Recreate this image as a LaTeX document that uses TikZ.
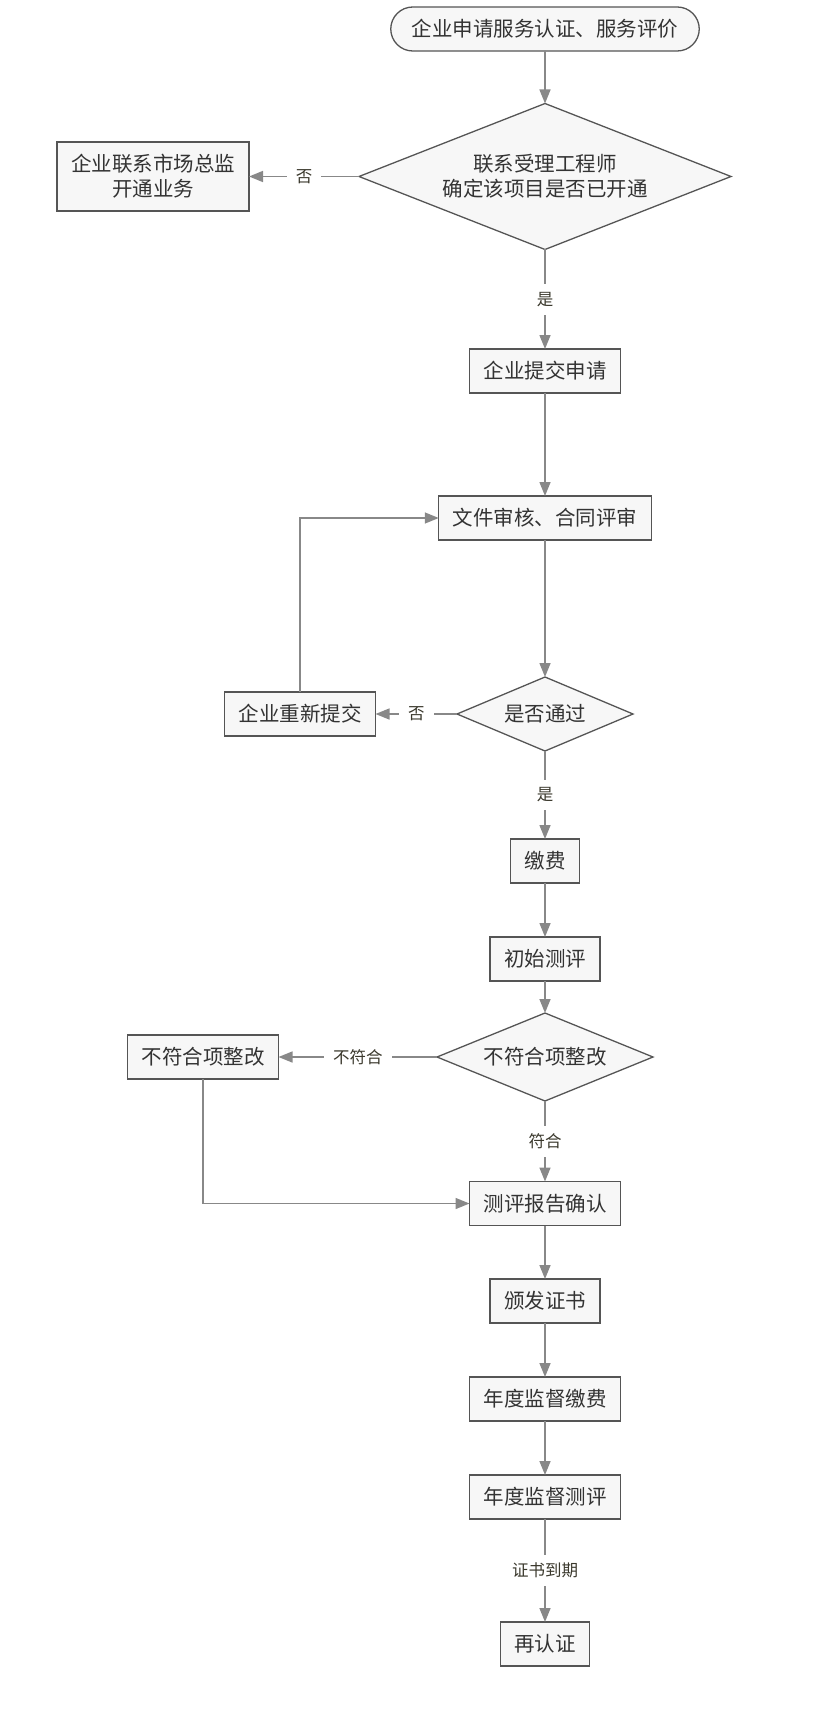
\documentclass[tikz,border=0pt]{standalone}
\usepackage{fontspec}
\setmainfont{Noto Sans CJK SC}
\usetikzlibrary{shapes.geometric,arrows.meta}
\definecolor{boxfill}{HTML}{F7F7F7}
\definecolor{boxline}{HTML}{555555}
\definecolor{linegray}{HTML}{888888}
\definecolor{txtgray}{HTML}{333333}
\definecolor{lbltext}{HTML}{3A382C}
\newcommand{\mainfont}{\fontsize{20.5}{25}\selectfont}
\newcommand{\lblfont}{\fontsize{16.5}{20}\selectfont}

\begin{document}
\begin{tikzpicture}[x=1pt,y=-1pt,inner sep=0pt,outer sep=0pt,
procbox/.style={draw=boxline,fill=boxfill,rectangle,line width=1.3pt,inner xsep=14pt,minimum height=44pt,text=txtgray,font=\mainfont,align=center},
startbox/.style={procbox,rounded corners=22pt,inner xsep=21pt},
decision/.style={draw=boxline,fill=boxfill,diamond,line width=1.3pt,text=txtgray,font=\mainfont,align=center},
flow/.style={draw=linegray,line width=1.5pt,-{Triangle[length=14pt,width=11pt]}},
lbl/.style={fill=white,inner xsep=9pt,inner ysep=8pt,text=lbltext,font=\lblfont}]

\useasboundingbox (0,0) rectangle (819,1712);

\draw (545,29) node[startbox] (apply) {企业申请服务认证、服务评价};
\draw (545,176.5) node[decision,minimum width=372pt,minimum height=146pt,aspect=2.55] (check) {联系受理工程师\\确定该项目是否已开通};
\draw (153,176.5) node[procbox,minimum height=69pt] (open) {企业联系市场总监\\开通业务};
\draw (545,371) node[procbox] (submit) {企业提交申请};
\draw (545,518) node[procbox] (review) {文件审核、合同评审};
\draw (545,714) node[decision,minimum width=176pt,minimum height=74pt,aspect=2.4] (pass) {是否通过};
\draw (300,714) node[procbox] (resubmit) {企业重新提交};
\draw (545,861) node[procbox] (pay) {缴费};
\draw (545,959) node[procbox] (initeval) {初始测评};
\draw (545,1057) node[decision,minimum width=216pt,minimum height=88pt,aspect=2.45] (conform) {不符合项整改};
\draw (203,1057) node[procbox] (fix) {不符合项整改};
\draw (545,1203.5) node[procbox] (confirm) {测评报告确认};
\draw (545,1301) node[procbox] (cert) {颁发证书};
\draw (545,1399) node[procbox] (annpay) {年度监督缴费};
\draw (545,1497) node[procbox] (anneval) {年度监督测评};
\draw (545,1644) node[procbox] (recert) {再认证};

\draw[flow] (apply) -- (check);
\draw[flow] (check.west) -- node[lbl] {否} (open.east);
\draw[flow] (check.south) -- node[lbl] {是} (submit.north);
\draw[flow] (submit) -- (review);
\draw[flow] (review) -- (pass.north);
\draw[flow] (pass.west) -- node[lbl] {否} (resubmit.east);
\draw[flow] (resubmit.north) |- (review.west);
\draw[flow] (pass.south) -- node[lbl] {是} (pay.north);
\draw[flow] (pay) -- (initeval);
\draw[flow] (initeval) -- (conform.north);
\draw[flow] (conform.west) -- node[lbl] {不符合} (fix.east);
\draw[flow] (conform.south) -- node[lbl] {符合} (confirm.north);
\draw[flow] (fix.south) |- (confirm.west);
\draw[flow] (confirm) -- (cert);
\draw[flow] (cert) -- (annpay);
\draw[flow] (annpay) -- (anneval);
\draw[flow] (anneval) -- node[lbl] {证书到期} (recert);
\end{tikzpicture}
\end{document}
